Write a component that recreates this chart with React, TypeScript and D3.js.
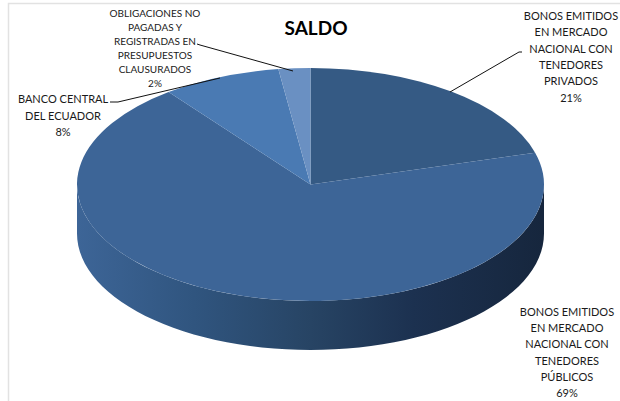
import React from 'react';
import * as d3 from 'd3';

const categories = [
  ['BONOS EMITIDOS', 'EN MERCADO', 'NACIONAL CON', 'TENEDORES', 'PRIVADOS'],
  ['BONOS EMITIDOS', 'EN MERCADO', 'NACIONAL CON', 'TENEDORES', 'PÚBLICOS'],
  ['BANCO CENTRAL', 'DEL ECUADOR'],
  ['OBLIGACIONES NO', 'PAGADAS Y', 'REGISTRADAS EN', 'PRESUPUESTOS', 'CLAUSURADOS'],
];
// shares as read from the slice edges, labels show them rounded
const values = [20.6, 69.0, 8.2, 2.2];
const sliceColors = ['#355a84', '#3d6597', '#4a7ab3', '#6a90c2'];
const labelPos = [
  { x: 571, y: 20, size: 11, step: 16.3 },
  { x: 567, y: 316, size: 11, step: 16.2 },
  { x: 63, y: 103, size: 11, step: 16.5 },
  { x: 155, y: 17, size: 10, step: 14 },
];
const leaders = [
  '522,52 519,52 450,92',
  '',
  '110,102 118,102 220,78',
  '197,44 200,45 293,71',
];

const width = 620;
const height = 401;
const cx = 310.5;
const cy = 184.5;
const rx = 233.5;
const ry = 116.5;
const depth = 49;
const font = 'Lato, "Open Sans", sans-serif';

export default function App() {
  const pie = d3.pie<number>().sort(null)(values);
  const arc = d3.arc<d3.PieArcDatum<number>>().innerRadius(0).outerRadius(rx);

  // side wall: front half of the ellipse, pushed down by depth
  const top = d3.range(0, 181, 3).map((a) => {
    const t = (a * Math.PI) / 180;
    return [cx + rx * Math.cos(t), cy + ry * Math.sin(t)] as [number, number];
  });
  const bottom = top.map(([x, y]) => [x, y + depth] as [number, number]).reverse();
  const wall = d3.line()([...top, ...bottom]) + 'Z';

  return (
    <svg
      width={width}
      height={height}
      style={{ position: 'absolute', left: 0, top: 0, display: 'block' }}
    >
      <defs>
        <linearGradient id="wall" gradientUnits="userSpaceOnUse" x1={cx - rx} x2={cx + rx} y1={0} y2={0}>
          <stop offset="0" stopColor="#3d6597" />
          <stop offset="0.25" stopColor="#30557f" />
          <stop offset="0.5" stopColor="#274464" />
          <stop offset="0.72" stopColor="#1c3150" />
          <stop offset="1" stopColor="#16263d" />
        </linearGradient>
      </defs>
      <rect x={0} y={0} width={width} height={height} fill="#fff" />
      <path d={`M8.5,${height}V3.5H${width}`} fill="none" stroke="#e2e2e2" strokeWidth={1.5} />

      <path d={wall} fill="url(#wall)" />
      <g transform={`translate(${cx},${cy}) scale(1,${ry / rx})`}>
        {pie.map((d, i) => (
          <path key={i} d={arc(d) ?? ''} fill={sliceColors[i]} />
        ))}
      </g>

      {leaders.map((points, i) =>
        points ? <polyline key={i} points={points} fill="none" stroke="#111" strokeWidth={1} /> : null
      )}

      <text x={316} y={35} textAnchor="middle" fontFamily={font} fontWeight={700} fontSize={19} fill="#000">
        SALDO
      </text>

      {categories.map((lines, i) => (
        <text key={i} textAnchor="middle" fontFamily={font} fontSize={labelPos[i].size} fill="#1a1a1a">
          {[...lines, `${Math.round(values[i])}%`].map((t, j) => (
            <tspan key={j} x={labelPos[i].x} y={labelPos[i].y + j * labelPos[i].step}>
              {t}
            </tspan>
          ))}
        </text>
      ))}
    </svg>
  );
}
